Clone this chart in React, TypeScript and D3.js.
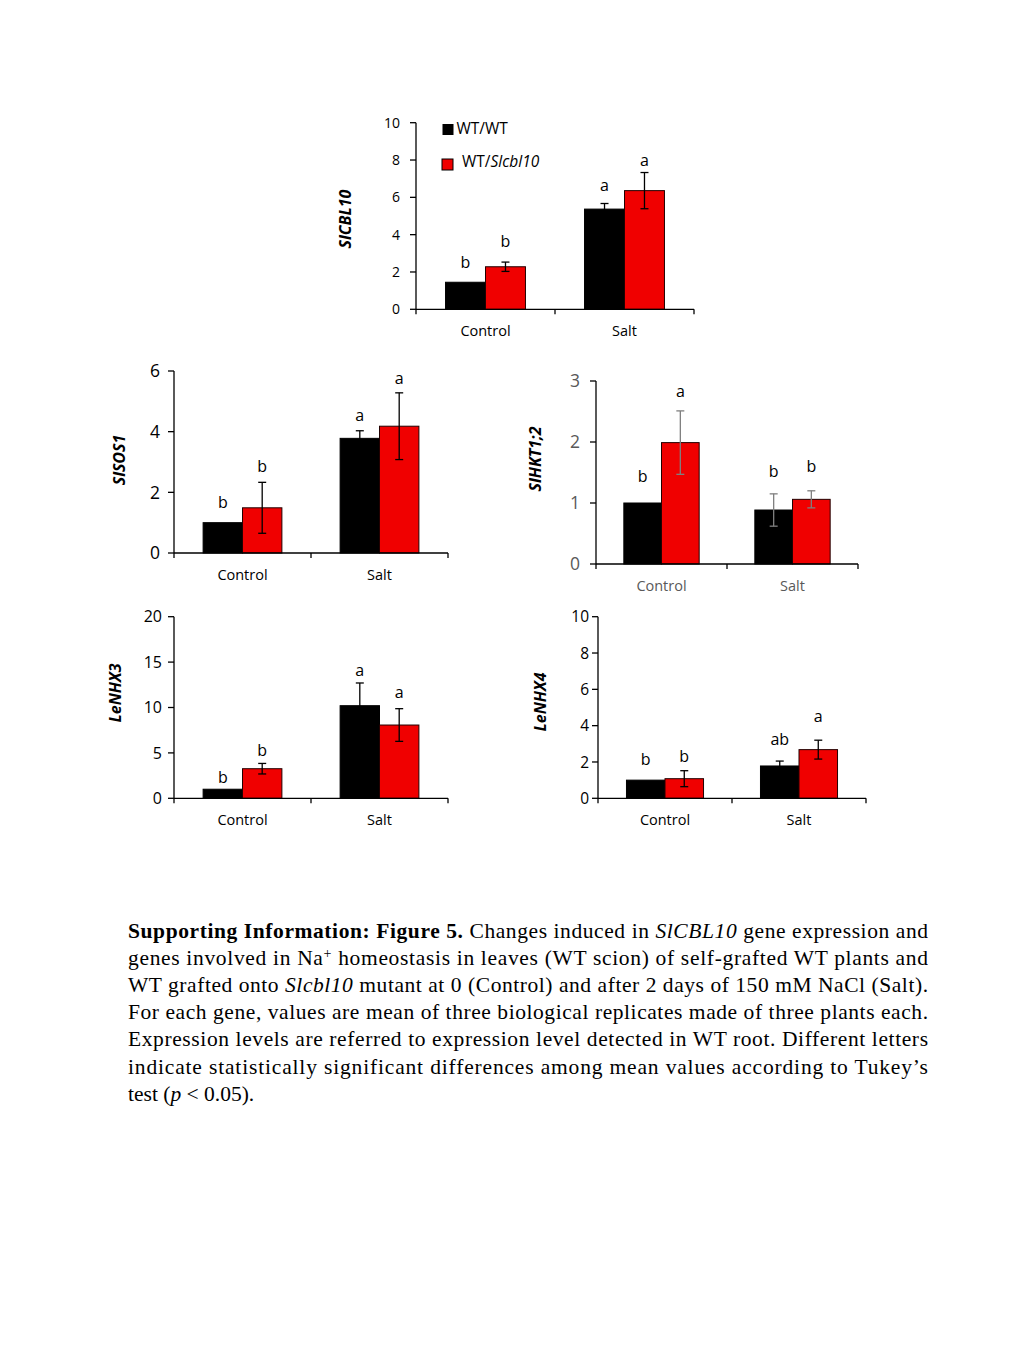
import React from "react";
import * as d3 from "d3";

// ---------- DATA ----------
const categories = ["Control", "Salt"];
const seriesNames = ["WT/WT", "WT/Slcbl10"];

// SlCBL10
const cbl10Wt = [1.45, 5.37];
const cbl10WtErr = [0, 0.3];
const cbl10Mut = [2.28, 6.36];
const cbl10MutErr = [0.25, 0.97];
const cbl10WtLetters = ["b", "a"];
const cbl10MutLetters = ["b", "a"];
const cbl10WtLetterAt = [2.2, 6.34];
const cbl10MutLetterAt = [3.32, 7.68];
const cbl10Ticks = [0, 2, 4, 6, 8, 10];

// SlSOS1
const sos1Wt = [1.0, 3.78];
const sos1WtErr = [0, 0.25];
const sos1Mut = [1.49, 4.18];
const sos1MutErr = [0.84, 1.1];
const sos1WtLetters = ["b", "a"];
const sos1MutLetters = ["b", "a"];
const sos1WtLetterAt = [1.49, 4.36];
const sos1MutLetterAt = [2.68, 5.57];
const sos1Ticks = [0, 2, 4, 6];

// SlHKT1;2
const hktWt = [1.0, 0.885];
const hktWtErr = [0, 0.265];
const hktMut = [1.99, 1.06];
const hktMutErr = [0.52, 0.14];
const hktWtLetters = ["b", "b"];
const hktMutLetters = ["a", "b"];
const hktWtLetterAt = [1.35, 1.42];
const hktMutLetterAt = [2.73, 1.51];
const hktTicks = [0, 1, 2, 3];

// LeNHX3
const nhx3Wt = [1.0, 10.2];
const nhx3WtErr = [0, 2.5];
const nhx3Mut = [3.26, 8.07];
const nhx3MutErr = [0.58, 1.8];
const nhx3WtLetters = ["b", "a"];
const nhx3MutLetters = ["b", "a"];
const nhx3WtLetterAt = [1.65, 13.5];
const nhx3MutLetterAt = [4.69, 11.0];
const nhx3Ticks = [0, 5, 10, 15, 20];

// LeNHX4
const nhx4Wt = [1.0, 1.78];
const nhx4WtErr = [0, 0.27];
const nhx4Mut = [1.08, 2.68];
const nhx4MutErr = [0.44, 0.52];
const nhx4WtLetters = ["b", "ab"];
const nhx4MutLetters = ["b", "a"];
const nhx4WtLetterAt = [1.83, 2.94];
const nhx4MutLetterAt = [2.02, 4.19];
const nhx4Ticks = [0, 2, 4, 6, 8, 10];

// ---------- STYLE / LAYOUT ----------
const SANS = "'Open Sans', 'Liberation Sans', sans-serif";
const SERIF = "'Liberation Serif', 'Times New Roman', serif";
const RED = "#f00000";
const BLACK = "#000000";

type PanelCfg = {
  gene: string;
  wt: number[];
  wtErr: number[];
  mut: number[];
  mutErr: number[];
  wtLetters: string[];
  mutLetters: string[];
  wtLetterAt: number[];
  mutLetterAt: number[];
  ticks: number[];
  x0: number;
  x1: number;
  yTop: number;
  yBottom: number;
  tickFont: number;
  tickGap: number;
  labelX: number;
  labelY: number;
  textColor: string;
  errColor: string;
};

const panels: PanelCfg[] = [
  {
    gene: "SlCBL10", wt: cbl10Wt, wtErr: cbl10WtErr, mut: cbl10Mut, mutErr: cbl10MutErr,
    wtLetters: cbl10WtLetters, mutLetters: cbl10MutLetters, wtLetterAt: cbl10WtLetterAt, mutLetterAt: cbl10MutLetterAt,
    ticks: cbl10Ticks, x0: 416, x1: 694, yTop: 122.7, yBottom: 309.3, tickFont: 14, tickGap: 16,
    labelX: 345, labelY: 219, textColor: "#000", errColor: "#000",
  },
  {
    gene: "SlSOS1", wt: sos1Wt, wtErr: sos1WtErr, mut: sos1Mut, mutErr: sos1MutErr,
    wtLetters: sos1WtLetters, mutLetters: sos1MutLetters, wtLetterAt: sos1WtLetterAt, mutLetterAt: sos1MutLetterAt,
    ticks: sos1Ticks, x0: 174, x1: 448, yTop: 371, yBottom: 553, tickFont: 17.5, tickGap: 14,
    labelX: 119, labelY: 460, textColor: "#000", errColor: "#000",
  },
  {
    gene: "SlHKT1;2", wt: hktWt, wtErr: hktWtErr, mut: hktMut, mutErr: hktMutErr,
    wtLetters: hktWtLetters, mutLetters: hktMutLetters, wtLetterAt: hktWtLetterAt, mutLetterAt: hktMutLetterAt,
    ticks: hktTicks, x0: 596, x1: 858, yTop: 381, yBottom: 564, tickFont: 17.5, tickGap: 16,
    labelX: 535, labelY: 459, textColor: "#595959", errColor: "#7f7f7f",
  },
  {
    gene: "LeNHX3", wt: nhx3Wt, wtErr: nhx3WtErr, mut: nhx3Mut, mutErr: nhx3MutErr,
    wtLetters: nhx3WtLetters, mutLetters: nhx3MutLetters, wtLetterAt: nhx3WtLetterAt, mutLetterAt: nhx3MutLetterAt,
    ticks: nhx3Ticks, x0: 174, x1: 448, yTop: 616.7, yBottom: 798.3, tickFont: 16, tickGap: 12,
    labelX: 115, labelY: 693, textColor: "#000", errColor: "#000",
  },
  {
    gene: "LeNHX4", wt: nhx4Wt, wtErr: nhx4WtErr, mut: nhx4Mut, mutErr: nhx4MutErr,
    wtLetters: nhx4WtLetters, mutLetters: nhx4MutLetters, wtLetterAt: nhx4WtLetterAt, mutLetterAt: nhx4MutLetterAt,
    ticks: nhx4Ticks, x0: 598, x1: 866, yTop: 616.7, yBottom: 798.3, tickFont: 15.5, tickGap: 9,
    labelX: 540, labelY: 702, textColor: "#000", errColor: "#000",
  },
];

function BarPanel({ p }: { p: PanelCfg }) {
  const x = d3.scaleBand<string>().domain(categories).range([p.x0, p.x1]).paddingInner(0).paddingOuter(0);
  const groupW = x.bandwidth() * 0.575;
  const xs = d3.scaleBand<string>().domain(seriesNames).range([0, groupW]);
  const y = d3.scaleLinear().domain([0, p.ticks[p.ticks.length - 1]]).range([p.yBottom, p.yTop]);
  const groupStart = (c: string) => (x(c) as number) + (x.bandwidth() - groupW) / 2;

  const series = [
    { name: seriesNames[0], vals: p.wt, errs: p.wtErr, letters: p.wtLetters, at: p.wtLetterAt, fill: BLACK, stroke: "#000" },
    { name: seriesNames[1], vals: p.mut, errs: p.mutErr, letters: p.mutLetters, at: p.mutLetterAt, fill: RED, stroke: "#200" },
  ];
  const edges = [...categories.map((c) => x(c) as number), p.x1];
  const cap = 4;

  return (
    <g>
      {series.map((s) =>
        categories.map((c, i) => {
          const bx = groupStart(c) + (xs(s.name) as number);
          const bw = xs.bandwidth();
          const top = y(s.vals[i]);
          const cx = bx + bw / 2;
          return (
            <g key={s.name + c}>
              <rect x={bx} y={top} width={bw} height={y(0) - top} fill={s.fill} stroke={s.stroke} strokeWidth={1} />
              {s.errs[i] > 0 && (
                <g stroke={p.errColor} strokeWidth={1.3}>
                  <line x1={cx} x2={cx} y1={y(s.vals[i] + s.errs[i])} y2={y(s.vals[i] - s.errs[i])} />
                  <line x1={cx - cap} x2={cx + cap} y1={y(s.vals[i] + s.errs[i])} y2={y(s.vals[i] + s.errs[i])} />
                  <line x1={cx - cap} x2={cx + cap} y1={y(s.vals[i] - s.errs[i])} y2={y(s.vals[i] - s.errs[i])} />
                </g>
              )}
              <text x={cx} y={y(s.at[i])} textAnchor="middle" fontFamily={SANS} fontSize={16} fill="#000">
                {s.letters[i]}
              </text>
            </g>
          );
        })
      )}
      {/* y axis */}
      <line x1={p.x0} x2={p.x0} y1={y.range()[1]} y2={y(0)} stroke="#000" strokeWidth={1.3} />
      {p.ticks.map((t) => (
        <g key={t}>
          <line x1={p.x0 - 6} x2={p.x0} y1={y(t)} y2={y(t)} stroke="#000" strokeWidth={1.3} />
          <text x={p.x0 - p.tickGap} y={y(t)} dy="0.36em" textAnchor="end" fontFamily={SANS} fontSize={p.tickFont} fill={p.textColor}>
            {t}
          </text>
        </g>
      ))}
      {/* x axis */}
      <line x1={p.x0} x2={p.x1} y1={y(0)} y2={y(0)} stroke="#000" strokeWidth={1.3} />
      {edges.map((e, i) => (
        <line key={i} x1={e} x2={e} y1={y(0)} y2={y(0) + 5} stroke="#000" strokeWidth={1.3} />
      ))}
      {categories.map((c) => (
        <text key={c} x={(x(c) as number) + x.bandwidth() / 2} y={y(0) + 27} textAnchor="middle" fontFamily={SANS} fontSize={14.5} fill={p.textColor}>
          {c}
        </text>
      ))}
      <text
        transform={`translate(${p.labelX},${p.labelY}) rotate(-90)`}
        textAnchor="middle"
        dy="0.35em"
        fontFamily={SANS}
        fontSize={16}
        fontWeight="bold"
        fontStyle="italic"
        fill="#000"
      >
        {p.gene}
      </text>
    </g>
  );
}

function Legend() {
  return (
    <g fontFamily={SANS} fontSize={15.5}>
      <rect x={442.5} y={124} width={11} height={11} fill={BLACK} />
      <text x={456.5} y={134} fill="#000">WT/WT</text>
      <rect x={442} y={159} width={11} height={11} fill={RED} stroke="#000" strokeWidth={1} />
      <text x={462} y={167} fill="#000">
        WT/<tspan fontStyle="italic">Slcbl10</tspan>
      </text>
    </g>
  );
}

function Caption() {
  const X = 128;
  const W = 800;
  const fs = 21.5;
  const base = 937.5;
  const lh = 27.2;
  const common = { fontFamily: SERIF, fontSize: fs, fill: "#000" } as const;
  return (
    <g>
      <text x={X} y={base} textLength={W} lengthAdjust="spacing" {...common}>
        <tspan fontWeight="bold">Supporting Information: Figure 5.</tspan> Changes induced in{" "}
        <tspan fontStyle="italic">SlCBL10</tspan> gene expression and
      </text>
      <text x={X} y={base + lh} textLength={W} lengthAdjust="spacing" {...common}>
        genes involved in Na<tspan dy={-7} fontSize={14}>+</tspan>
        <tspan dy={7}> homeostasis in leaves (WT scion) of self-grafted WT plants and</tspan>
      </text>
      <text x={X} y={base + 2 * lh} textLength={W} lengthAdjust="spacing" {...common}>
        WT grafted onto <tspan fontStyle="italic">Slcbl10</tspan> mutant at 0 (Control) and after 2 days of 150 mM NaCl (Salt).
      </text>
      <text x={X} y={base + 3 * lh} textLength={W} lengthAdjust="spacing" {...common}>
        For each gene, values are mean of three biological replicates made of three plants each.
      </text>
      <text x={X} y={base + 4 * lh} textLength={W} lengthAdjust="spacing" {...common}>
        Expression levels are referred to expression level detected in WT root. Different letters
      </text>
      <text x={X} y={base + 5 * lh} textLength={W} lengthAdjust="spacing" {...common}>
        indicate statistically significant differences among mean values according to Tukey’s
      </text>
      <text x={X} y={base + 6 * lh} {...common}>
        test (<tspan fontStyle="italic">p</tspan> &lt; 0.05).
      </text>
    </g>
  );
}

export default function App() {
  return (
    <svg
      width={1024}
      height={1365}
      viewBox="0 0 1024 1365"
      style={{ position: "absolute", left: 0, top: 0, background: "#fff" }}
    >
      <rect x={0} y={0} width={1024} height={1365} fill="#fff" />
      {panels.map((p) => (
        <BarPanel key={p.gene} p={p} />
      ))}
      <Legend />
      <Caption />
    </svg>
  );
}
